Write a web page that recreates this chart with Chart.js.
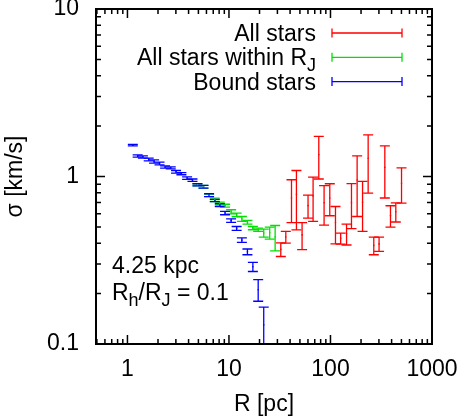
<!DOCTYPE html>
<html>
<head>
<meta charset="utf-8">
<script src="https://cdn.jsdelivr.net/npm/chart.js@4/dist/chart.umd.min.js"></script>
<style>
  html, body { margin: 0; padding: 0; background: #fff; }
  #wrap { width: 458px; height: 420px; }
</style>
</head>
<body>
<div id="wrap"><canvas id="c" width="458" height="420"></canvas></div>
<script>
// radius R [pc], dispersion sigma [km/s] and its error
let redR = [32.4, 36.3, 41.3, 46.2, 52.5, 60.1, 67.4, 76.7, 86.5, 98.4, 112, 126, 144, 161, 183, 207, 235, 267, 301, 343, 390, 440, 501];
let redSig = [0.367, 0.435, 0.743, 0.783, 0.448, 0.670, 0.766, 1.35, 0.697, 0.744, 0.529, 0.427, 0.455, 0.697, 0.953, 0.702, 1.285, 0.388, 0.396, 1.134, 0.584, 0.615, 0.91];
let redErr = [0.034, 0.035, 0.213, 0.303, 0.082, 0.105, 0.226, 0.384, 0.184, 0.161, 0.133, 0.032, 0.065, 0.209, 0.376, 0.232, 0.489, 0.047, 0.039, 0.39, 0.085, 0.080, 0.217];

let greenR = [4.89, 5.61, 6.37, 7.25, 8.12, 9.15, 10.5, 11.9, 13.4, 15.2, 17.2, 19.4, 22.0, 25.2, 28.5];
let greenSig = [0.892, 0.868, 0.772, 0.726, 0.691, 0.67, 0.616, 0.59, 0.558, 0.533, 0.492, 0.481, 0.46, 0.461, 0.435];
let greenErr = [0.013, 0.016, 0.013, 0.017, 0.013, 0.013, 0.017, 0.015, 0.019, 0.014, 0.011, 0.011, 0.025, 0.038, 0.075];

let blueR = [1.13, 1.26, 1.42, 1.62, 1.83, 2.07, 2.35, 2.67, 3.01, 3.40, 3.87, 4.37, 4.89, 5.61, 6.37, 7.25, 8.12, 9.15, 10.5, 11.9, 13.4, 15.2, 17.2, 19.4, 22.0];
let blueSig = [1.54, 1.326, 1.308, 1.264, 1.23, 1.196, 1.14, 1.127, 1.067, 1.04, 0.978, 0.95, 0.892, 0.868, 0.774, 0.719, 0.675, 0.605, 0.545, 0.49, 0.417, 0.355, 0.289, 0.211, 0.13];
let blueErr = [0.016, 0.021, 0.021, 0.023, 0.028, 0.023, 0.018, 0.016, 0.019, 0.016, 0.018, 0.016, 0.013, 0.016, 0.015, 0.012, 0.013, 0.014, 0.013, 0.013, 0.013, 0.014, 0.018, 0.031, 0.036];

let seriesLabels = ["All stars", "All stars within R_{J}", "Bound stars"];
let seriesColors = ["#ff0000", "#00e000", "#0000ff"];

let xTicks = [1, 10, 100, 1000];
let xTickLabels = ["1", "10", "100", "1000"];
let yTicks = [0.1, 1, 10];
let yTickLabels = ["0.1", "1", "10"];

let noteLines = ["4.25 kpc", "R_{h}/R_{J} = 0.1"];

const FONT = "'Liberation Sans', Arial, sans-serif";
const FS = 23;

function toPoints(r, s, e) {
  return r.map((v, i) => ({x: v, y: s[i], err: e[i]}));
}

// text with _{} subscripts
function richParts(text) {
  let parts = [];
  let re = /_\{([^}]*)\}/g, last = 0, m;
  while ((m = re.exec(text)) !== null) {
    if (m.index > last) parts.push({t: text.slice(last, m.index), sub: false});
    parts.push({t: m[1], sub: true});
    last = re.lastIndex;
  }
  if (last < text.length) parts.push({t: text.slice(last), sub: false});
  return parts;
}

function drawRich(ctx, text, x, y, align) {
  let parts = richParts(text);
  let w = 0;
  parts.forEach(p => {
    ctx.font = (p.sub ? Math.round(FS * 0.8) : FS) + "px " + FONT;
    p.w = ctx.measureText(p.t).width;
    w += p.w;
  });
  let cx = align === "right" ? x - w : x;
  ctx.textAlign = "left";
  ctx.textBaseline = "alphabetic";
  parts.forEach(p => {
    ctx.font = (p.sub ? Math.round(FS * 0.8) : FS) + "px " + FONT;
    ctx.fillText(p.t, cx, p.sub ? y + 6 : y);
    cx += p.w;
  });
}

function errorBar(ctx, x, top, bot, half) {
  ctx.beginPath();
  ctx.moveTo(x, top); ctx.lineTo(x, bot);
  ctx.moveTo(x - half, top); ctx.lineTo(x + half, top);
  ctx.moveTo(x - half, bot); ctx.lineTo(x + half, bot);
  ctx.stroke();
}

const errorBars = {
  id: "errorBars",
  beforeDatasetsDraw(chart) {
    let ctx = chart.ctx, a = chart.chartArea;
    let xs = chart.scales.x, ys = chart.scales.y;
    ctx.save();
    ctx.beginPath();
    ctx.rect(a.left, a.top, a.right - a.left, a.bottom - a.top);
    ctx.clip();
    ctx.lineWidth = 1.3;
    chart.data.datasets.forEach(ds => {
      ctx.strokeStyle = ds.borderColor;
      ds.data.forEach(p => {
        let px = xs.getPixelForValue(p.x);
        let lo = Math.max(p.y - p.err, 0.01);
        errorBar(ctx, px, ys.getPixelForValue(p.y + p.err), ys.getPixelForValue(lo), 5);
      });
    });
    ctx.restore();
  }
};

const frame = {
  id: "frame",
  afterDraw(chart) {
    let ctx = chart.ctx, a = chart.chartArea;
    let xs = chart.scales.x, ys = chart.scales.y;
    ctx.save();
    ctx.strokeStyle = "#000";
    ctx.lineWidth = 1.5;
    ctx.beginPath();
    for (let d = -1; d <= 3; d++) {
      for (let m = 1; m < 10; m++) {
        let v = m * Math.pow(10, d);
        let len = m === 1 ? 9 : 5;
        if (v >= xs.min && v <= xs.max) {
          let p = xs.getPixelForValue(v);
          ctx.moveTo(p, a.bottom); ctx.lineTo(p, a.bottom - len);
          ctx.moveTo(p, a.top); ctx.lineTo(p, a.top + len);
        }
        if (v >= ys.min && v <= ys.max) {
          let p = ys.getPixelForValue(v);
          ctx.moveTo(a.left, p); ctx.lineTo(a.left + len, p);
          ctx.moveTo(a.right, p); ctx.lineTo(a.right - len, p);
        }
      }
    }
    ctx.stroke();
    ctx.lineWidth = 2;
    ctx.strokeRect(a.left, a.top, a.right - a.left, a.bottom - a.top);

    // key
    ctx.fillStyle = "#000";
    chart.data.datasets.forEach((ds, i) => {
      let y = 33 + i * 24.3;
      drawRich(ctx, seriesLabels[i], 316, y + 8, "right");
      ctx.strokeStyle = ds.borderColor;
      ctx.lineWidth = 1.3;
      ctx.beginPath();
      ctx.moveTo(332, y); ctx.lineTo(402, y);
      ctx.moveTo(332, y - 4.5); ctx.lineTo(332, y + 4.5);
      ctx.moveTo(402, y - 4.5); ctx.lineTo(402, y + 4.5);
      ctx.stroke();
    });

    // note
    ctx.fillStyle = "#000";
    noteLines.forEach((t, i) => drawRich(ctx, t, a.left + 16, 273 + i * 27, "left"));
    ctx.restore();
  }
};

function fitScale(size) {
  return function(scale) {
    if (scale.isHorizontal()) scale.height = size; else scale.width = size;
    scale.paddingTop = 0; scale.paddingBottom = 0;
    scale.paddingLeft = 0; scale.paddingRight = 0;
  };
}

let datasets = [
  {label: seriesLabels[0], data: toPoints(redR, redSig, redErr), borderColor: seriesColors[0], backgroundColor: seriesColors[0]},
  {label: seriesLabels[1], data: toPoints(greenR, greenSig, greenErr), borderColor: seriesColors[1], backgroundColor: seriesColors[1]},
  {label: seriesLabels[2], data: toPoints(blueR, blueSig, blueErr), borderColor: seriesColors[2], backgroundColor: seriesColors[2]}
];

new Chart(document.getElementById("c"), {
  type: "scatter",
  data: {datasets: datasets},
  options: {
    responsive: false,
    animation: false,
    devicePixelRatio: 1,
    layout: {padding: {left: 0, right: 26, top: 9, bottom: 0}},
    elements: {point: {radius: 0.8, borderWidth: 0, hoverRadius: 0}},
    plugins: {legend: {display: false}, tooltip: {enabled: false}},
    scales: {
      x: {
        type: "logarithmic",
        min: 0.49, max: 1000,
        afterBuildTicks: s => { s.ticks = xTicks.map(v => ({value: v})); },
        afterFit: fitScale(76),
        grid: {display: false, drawTicks: false},
        border: {display: false},
        ticks: {color: "#000", padding: 12, maxRotation: 0, autoSkip: false,
          font: {family: FONT, size: FS}, callback: (v, i) => xTickLabels[i]},
        title: {display: true, text: "R [pc]", color: "#000", font: {family: FONT, size: FS}, padding: {top: 0, bottom: 2}}
      },
      y: {
        type: "logarithmic",
        min: 0.1, max: 10,
        afterBuildTicks: s => { s.ticks = yTicks.map(v => ({value: v})); },
        afterFit: fitScale(96),
        grid: {display: false, drawTicks: false},
        border: {display: false},
        ticks: {color: "#000", padding: 17, autoSkip: false,
          font: {family: FONT, size: FS}, callback: (v, i) => yTickLabels[i]},
        title: {display: true, text: "σ [km/s]", color: "#000", font: {family: FONT, size: FS}, padding: {top: 2, bottom: 0}}
      }
    }
  },
  plugins: [errorBars, frame]
});
</script>
</body>
</html>
